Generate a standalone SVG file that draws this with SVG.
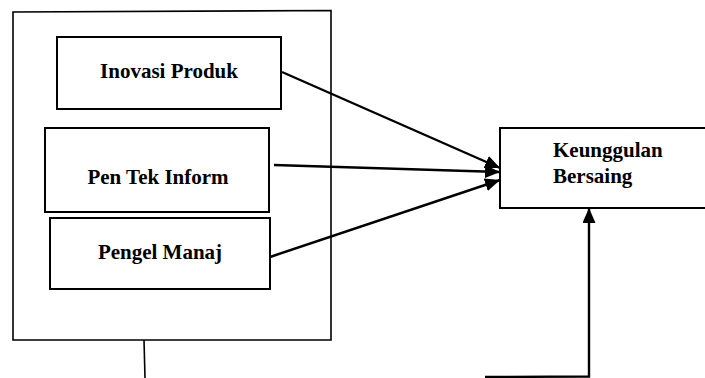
<svg xmlns="http://www.w3.org/2000/svg" width="705" height="378" viewBox="0 0 705 378">
<style>
.box{fill:#fff;stroke:#000;stroke-width:2}
.frame{fill:none;stroke:#000;stroke-width:1.6}
.lbl{font-family:"Liberation Serif","Times New Roman",serif;font-weight:bold;font-size:21px;fill:#000}
.edge{fill:none;stroke:#000;stroke-width:2.4}
</style>
<defs>
<marker id="arr" viewBox="0 0 15 13" refX="15" refY="6.5" markerWidth="15" markerHeight="13" markerUnits="userSpaceOnUse" orient="auto">
<path d="M0,0 L15,6.5 L0,13 Z" fill="#000"/>
</marker>
</defs>
<rect width="705" height="378" fill="#fff"/>
<g id="frame">
<path class="frame" d="M13,340 L13,12 L331,10.5 L331,340 Z"/>
</g>
<g id="inovasi">
<rect class="box" x="57" y="37" width="224" height="72"/>
<text class="lbl" x="169" y="78" text-anchor="middle">Inovasi Produk</text>
</g>
<g id="pentek">
<rect class="box" x="45" y="128" width="224" height="84"/>
<text class="lbl" x="158" y="184" text-anchor="middle">Pen Tek Inform</text>
</g>
<g id="pengel">
<rect class="box" x="50" y="218" width="220" height="71"/>
<text class="lbl" x="160" y="259" text-anchor="middle">Pengel Manaj</text>
</g>
<g id="keunggulan">
<rect class="box" x="500" y="128" width="210" height="80"/>
<text class="lbl" x="553" y="157">Keunggulan</text>
<text class="lbl" x="553" y="183">Bersaing</text>
</g>
<g id="connectors">
<line class="edge" x1="282" y1="72" x2="500" y2="168" marker-end="url(#arr)"/>
<line class="edge" x1="274" y1="165" x2="500" y2="172" marker-end="url(#arr)"/>
<line class="edge" x1="270" y1="257" x2="500" y2="180" marker-end="url(#arr)"/>
<line class="frame" x1="144" y1="340" x2="145" y2="378"/>
<path class="edge" d="M485,377 L589,376.5 L589,208" marker-end="url(#arr)"/>
</g>
</svg>
